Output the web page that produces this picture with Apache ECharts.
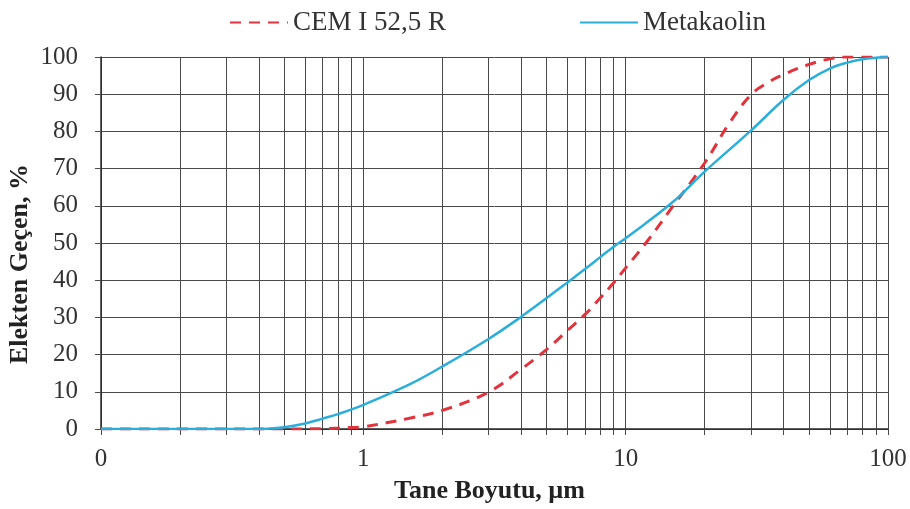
<!DOCTYPE html>
<html>
<head>
<meta charset="utf-8">
<script src="https://cdn.jsdelivr.net/npm/echarts@6/dist/echarts.min.js"></script>
<style>
  html, body { margin: 0; padding: 0; background: #fff; }
  #chart { width: 910px; height: 509px; }
</style>
</head>
<body>
<div id="chart"></div>
<script>
// Particle size distribution: cumulative passing (%) vs particle size (µm)
const cemSizes = [0.1, 0.5, 0.7, 0.9, 1, 1.5, 2, 3, 4, 5, 6, 7, 8, 9, 10, 12, 15, 20, 25, 30, 35, 40, 50, 60, 70, 100];
const cemPassing = [0, 0, 0.1, 0.4, 0.6, 2.9, 5, 9.9, 16.1, 21.4, 26.5, 30.8, 35.2, 39.3, 43.3, 50.2, 59.5, 71.5, 82.5, 89.8, 93.2, 95.3, 98, 99.5, 100, 100];

const mkSizes = [0.1, 0.4, 0.5, 0.6, 0.7, 0.8, 1, 1.5, 2, 3, 4, 5, 6, 7, 8, 9, 10, 15, 20, 30, 40, 50, 60, 70, 80, 90, 100];
const mkPassing = [0, 0, 0.5, 1.5, 2.8, 4, 6.5, 12, 16.8, 24.2, 30.2, 35.2, 39.4, 43, 46.2, 49, 51.3, 60.8, 69.2, 80.2, 88.5, 93.8, 96.9, 98.5, 99.4, 99.8, 100];

const seriesNames = ['CEM I 52,5 R', 'Metakaolin'];
const xTickValues = [0.1, 0.2, 0.3, 0.4, 0.5, 0.6, 0.7, 0.8, 0.9,
  1, 2, 3, 4, 5, 6, 7, 8, 9,
  10, 20, 30, 40, 50, 60, 70, 80, 90, 100];
const xLabelValues = [0.1, 1, 10, 100];
const xAxisTitle = 'Tane Boyutu, µm';
const yAxisTitle = 'Elekten Geçen, %';

const pair = (xs, ys) => xs.map((x, i) => [x, ys[i]]);

const FONT = 'Liberation Serif';
const gridColor = '#4a4a4a';
const axisColor = '#2a2a2a';
const cemColor = '#e2333d';
const mkColor = '#2aaedc';

const chart = echarts.init(document.getElementById('chart'), null, { renderer: 'canvas' });
chart.setOption({
  animation: false,
  backgroundColor: '#ffffff',
  textStyle: { fontFamily: FONT },
  grid: { left: 101, right: 22, top: 57, bottom: 80, containLabel: false, outerBoundsMode: 'none' },
  legend: {
    top: 4,
    left: 224,
    itemWidth: 58,
    itemHeight: 14,
    itemGap: 133,
    itemStyle: { opacity: 0 },
    textStyle: { fontFamily: FONT, fontSize: 27, color: '#333' },
    data: seriesNames
  },
  xAxis: {
    type: 'log',
    logBase: 10,
    min: 0.1,
    max: 100,
    name: xAxisTitle,
    nameLocation: 'middle',
    nameGap: 49,
    nameMoveOverlap: false,
    nameTextStyle: {
      fontFamily: FONT, fontSize: 26, fontWeight: 'bold', color: '#222',
      verticalAlign: 'top', padding: [0, 10, 0, 0]
    },
    axisLine: { show: true, lineStyle: { color: axisColor, width: 1.5 } },
    axisTick: { show: true, inside: false, length: 6, customValues: xTickValues, lineStyle: { color: gridColor } },
    axisLabel: {
      customValues: xLabelValues,
      margin: 18,
      fontFamily: FONT, fontSize: 25, color: '#333',
      formatter: v => (v < 1 ? '0' : String(Math.round(v)))
    },
    splitLine: { show: true, lineStyle: { color: gridColor, width: 1 } }
  },
  yAxis: {
    type: 'value',
    min: 0,
    max: 100,
    interval: 10,
    name: yAxisTitle,
    nameLocation: 'middle',
    nameGap: 68,
    nameMoveOverlap: false,
    nameRotate: 90,
    nameTextStyle: {
      fontFamily: FONT, fontSize: 26, fontWeight: 'bold', color: '#222',
      padding: [0, 42, 0, 0]
    },
    axisLine: { show: true, lineStyle: { color: axisColor, width: 1.5 } },
    axisTick: { show: true, inside: false, length: 6, lineStyle: { color: gridColor } },
    axisLabel: { margin: 23, fontFamily: FONT, fontSize: 25, color: '#333' },
    splitLine: { show: true, lineStyle: { color: gridColor, width: 1 } }
  },
  series: [
    {
      name: seriesNames[0],
      type: 'line',
      smooth: 0.4,
      showSymbol: false,
      symbol: 'none',
      z: 3,
      itemStyle: { color: cemColor },
      lineStyle: { color: cemColor, width: 3, type: [11, 8] },
      data: pair(cemSizes, cemPassing)
    },
    {
      name: seriesNames[1],
      type: 'line',
      smooth: 0.4,
      showSymbol: false,
      symbol: 'none',
      z: 4,
      itemStyle: { color: mkColor },
      lineStyle: { color: mkColor, width: 2.5 },
      data: pair(mkSizes, mkPassing)
    }
  ]
});
</script>
</body>
</html>
